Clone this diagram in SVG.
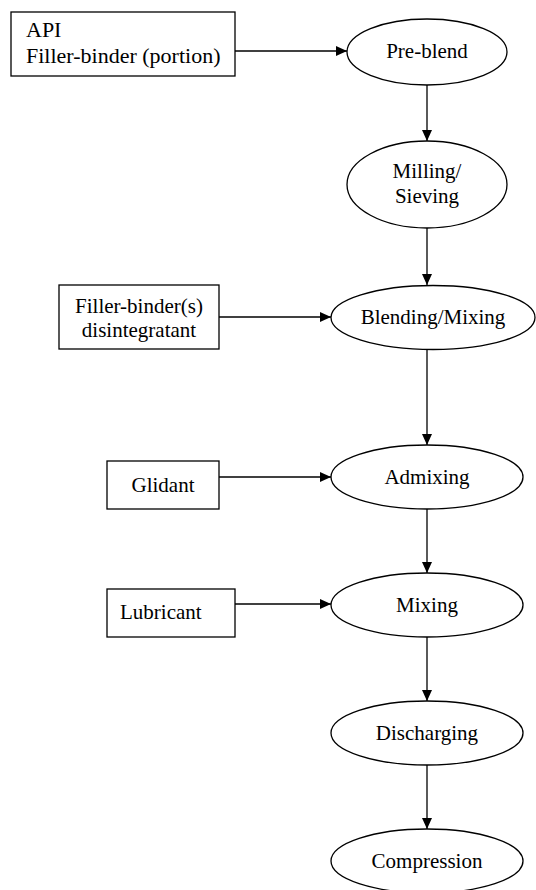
<svg xmlns="http://www.w3.org/2000/svg" width="536" height="890" viewBox="0 0 536 890">
<defs>
<marker id="ah" markerUnits="userSpaceOnUse" markerWidth="12" markerHeight="12" refX="11" refY="5" orient="auto">
<path d="M0,0 L11,5 L0,10 z" fill="#000"/>
</marker>
</defs>
<style>
text{font-family:'Liberation Serif','Times New Roman','DejaVu Serif',serif;font-size:21px;fill:#000}
.s{fill:#fff;stroke:#000;stroke-width:1.3}
.m{text-anchor:middle}
.big{font-size:22px}
.c{stroke:#000;stroke-width:1.3;fill:none;marker-end:url(#ah)}
</style>
<rect width="536" height="890" fill="#fff"/>
<g id="connectors">
<line class="c" x1="235" y1="51" x2="347" y2="51"/>
<line class="c" x1="427" y1="85" x2="427" y2="141"/>
<line class="c" x1="427" y1="228" x2="427" y2="285"/>
<line class="c" x1="219" y1="317" x2="331" y2="317"/>
<line class="c" x1="427" y1="349" x2="427" y2="445"/>
<line class="c" x1="219" y1="477" x2="331" y2="477"/>
<line class="c" x1="427" y1="509" x2="427" y2="573"/>
<line class="c" x1="235" y1="604" x2="331" y2="604"/>
<line class="c" x1="427" y1="637" x2="427" y2="701"/>
<line class="c" x1="427" y1="765" x2="427" y2="829"/>
</g>
<g id="n-api">
<rect class="s" x="11" y="12" width="224" height="64"/>
<text class="big" x="26" y="37">API</text>
<text class="big" x="26" y="63">Filler-binder (portion)</text>
</g>
<g id="n-preblend">
<ellipse class="s" cx="427" cy="52" rx="80" ry="33"/>
<text class="m" x="427" y="58">Pre-blend</text>
</g>
<g id="n-milling">
<ellipse class="s" cx="427" cy="184.5" rx="80" ry="43.5"/>
<text class="m" x="427" y="178">Milling/</text>
<text class="m" x="427" y="203">Sieving</text>
</g>
<g id="n-fillerbinder">
<rect class="s" x="59" y="285" width="160" height="64"/>
<text class="m" x="139" y="313">Filler-binder(s)</text>
<text class="m" x="139" y="337">disintegratant</text>
</g>
<g id="n-blending">
<ellipse class="s" cx="433" cy="317.5" rx="102" ry="32"/>
<text class="m" x="433" y="324">Blending/Mixing</text>
</g>
<g id="n-glidant">
<rect class="s" x="107" y="461" width="112" height="48"/>
<text class="m" x="163" y="492">Glidant</text>
</g>
<g id="n-admixing">
<ellipse class="s" cx="427" cy="477" rx="96" ry="32"/>
<text class="m" x="427" y="484">Admixing</text>
</g>
<g id="n-lubricant">
<rect class="s" x="107" y="589" width="128" height="48"/>
<text x="120" y="619">Lubricant</text>
</g>
<g id="n-mixing">
<ellipse class="s" cx="427" cy="605" rx="96" ry="32"/>
<text class="m" x="427" y="612">Mixing</text>
</g>
<g id="n-discharging">
<ellipse class="s" cx="427" cy="733" rx="96" ry="32"/>
<text class="m" x="427" y="740">Discharging</text>
</g>
<g id="n-compression">
<ellipse class="s" cx="427" cy="861" rx="96" ry="32"/>
<text class="m" x="427" y="868">Compression</text>
</g>
</svg>
